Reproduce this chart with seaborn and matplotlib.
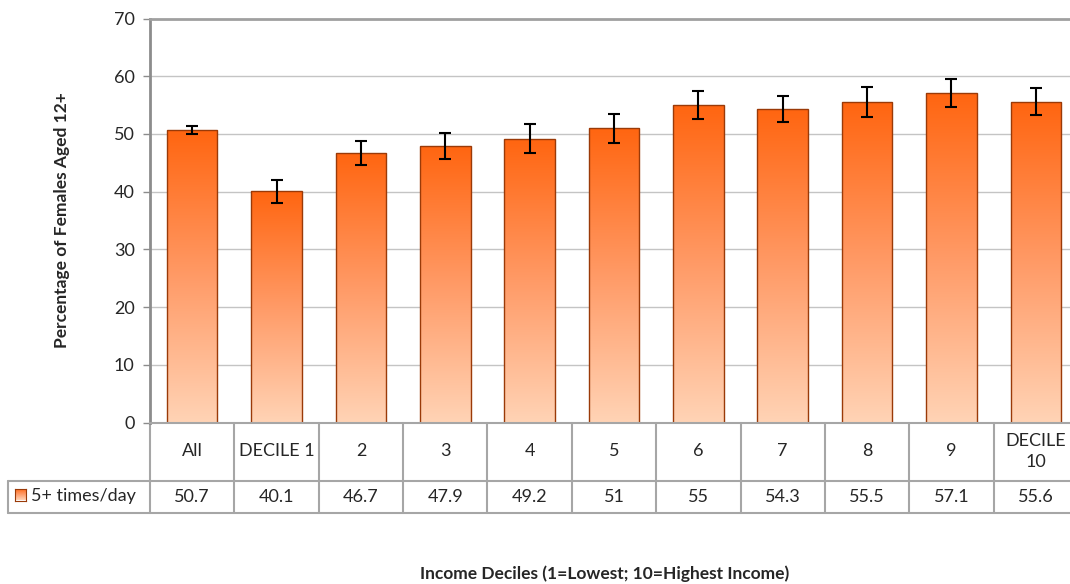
import numpy as np
import pandas as pd
import matplotlib
matplotlib.use('Agg')
import matplotlib.pyplot as plt
import seaborn as sns
from matplotlib.colors import LinearSegmentedColormap
from matplotlib.transforms import blended_transform_factory

# --------------
# Data
# --------------
categories = ['All', 'DECILE 1', '2', '3', '4', '5', '6', '7', '8', '9', 'DECILE\n10']
values = [50.7, 40.1, 46.7, 47.9, 49.2, 51, 55, 54.3, 55.5, 57.1, 55.6]
value_labels = ['50.7', '40.1', '46.7', '47.9', '49.2', '51', '55', '54.3', '55.5', '57.1', '55.6']
errors = [0.7, 2.0, 2.0, 2.2, 2.5, 2.5, 2.4, 2.3, 2.6, 2.5, 2.3]
series_name = '5+ times/day'
y_ticks = [0, 10, 20, 30, 40, 50, 60, 70]

df = pd.DataFrame({'Category': categories, 'Value': values})

# --------------
# Style
# --------------
sns.set_style('white')
plt.rcParams['font.family'] = ['Lato', 'DejaVu Sans']

cmap_bar = LinearSegmentedColormap.from_list('bar', ['#FFD3B5', '#FF9A66', '#FF6510'])
grad = np.linspace(0, 1, 256).reshape(-1, 1)
col_grid = '#C4C4C4'
col_table = '#A6A6A6'

# plot area in pixels: left 150, top 18.5, bottom 422.5, right 1078 (cut by the image edge)
fig = plt.figure(figsize=(10.7, 5.84), dpi=100)
ax = fig.add_axes([150 / 1070, 161.5 / 584, 928 / 1070, 404 / 584])

sns.barplot(data=df, x='Category', y='Value', color='#FF8040', width=0.6,
            edgecolor='#9A3A08', linewidth=1, ax=ax)

# gradient fill of every bar, clipped to the bar
for patch in ax.patches:
    x0 = patch.get_x()
    w = patch.get_width()
    h = patch.get_height()
    img = ax.imshow(grad, cmap=cmap_bar, origin='lower', aspect='auto',
                    extent=[x0, x0 + w, 0, h], zorder=1.5)
    img.set_clip_path(patch)
    patch.set_facecolor('none')
    patch.set_zorder(2)

ax.errorbar(x=np.arange(len(values)), y=values, yerr=errors, fmt='none',
            ecolor='black', elinewidth=1.5, capsize=4, capthick=1.5, zorder=3)

ax.set_xlim(-0.5, len(values) - 0.5)
ax.set_ylim(0, 70)
ax.set_yticks(y_ticks)
ax.yaxis.grid(True, color=col_grid, linewidth=1)
ax.set_axisbelow(True)
ax.set_xticks([])
ax.set_xlabel('')
ax.set_ylabel('')
ax.tick_params(axis='y', left=True, length=5, width=1, color='#8C8C8C',
               labelsize=13, pad=6)
ax.spines['right'].set_visible(False)
ax.spines['top'].set_color('#A0A0A0')
ax.spines['top'].set_linewidth(2)
ax.spines['left'].set_color('#8C8C8C')
ax.spines['left'].set_linewidth(2)
ax.spines['bottom'].set_color(col_table)
ax.spines['bottom'].set_linewidth(1.5)

# --------------
# Data table below the axis
# --------------
trans = blended_transform_factory(ax.transData, ax.transAxes)
row1 = -58 / 404
row2 = -90 / 404
legend_left = -0.5 - 142.5 / (928 / 11)

for k in range(len(categories) + 1):
    ax.plot([k - 0.5, k - 0.5], [0, row2], color=col_table, lw=1.5,
            transform=trans, clip_on=False)
ax.plot([-0.5, len(categories) - 0.5], [row1, row1], color=col_table, lw=1.5,
        transform=trans, clip_on=False)
ax.plot([legend_left, len(categories) - 0.5], [row2, row2], color=col_table, lw=1.5,
        transform=trans, clip_on=False)
ax.plot([legend_left, -0.5], [row1, row1], color=col_table, lw=1.5,
        transform=trans, clip_on=False)
ax.plot([legend_left, legend_left], [row1, row2], color=col_table, lw=1.5,
        transform=trans, clip_on=False)

for i, (cat, lab) in enumerate(zip(categories, value_labels)):
    ax.text(i, row1 / 2, cat, ha='center', va='center', fontsize=13,
            transform=trans, linespacing=1.4)
    ax.text(i, (row1 + row2) / 2, lab, ha='center', va='center', fontsize=13,
            transform=trans)

# legend key inside the table
ax_key = fig.add_axes([15 / 1070, (584 - 500.5) / 584, 11 / 1070, 12 / 584])
ax_key.imshow(grad, cmap=cmap_bar, origin='lower', aspect='auto')
ax_key.set_xticks([])
ax_key.set_yticks([])
for s in ax_key.spines.values():
    s.set_color('#9A3A08')
    s.set_linewidth(0.8)
fig.text(31 / 1070, 1 - 496 / 584, series_name, ha='left', va='center', fontsize=13)

# axis titles
fig.text(62 / 1070, 1 - 220 / 584, 'Percentage of Females Aged 12+', rotation=90,
         ha='center', va='center', fontsize=12.5, fontweight='bold')
fig.text(605 / 1070, 1 - 574 / 584, 'Income Deciles (1=Lowest; 10=Highest Income)',
         ha='center', va='center', fontsize=12.5, fontweight='bold')

plt.savefig('out.png', dpi=100)
plt.close()
